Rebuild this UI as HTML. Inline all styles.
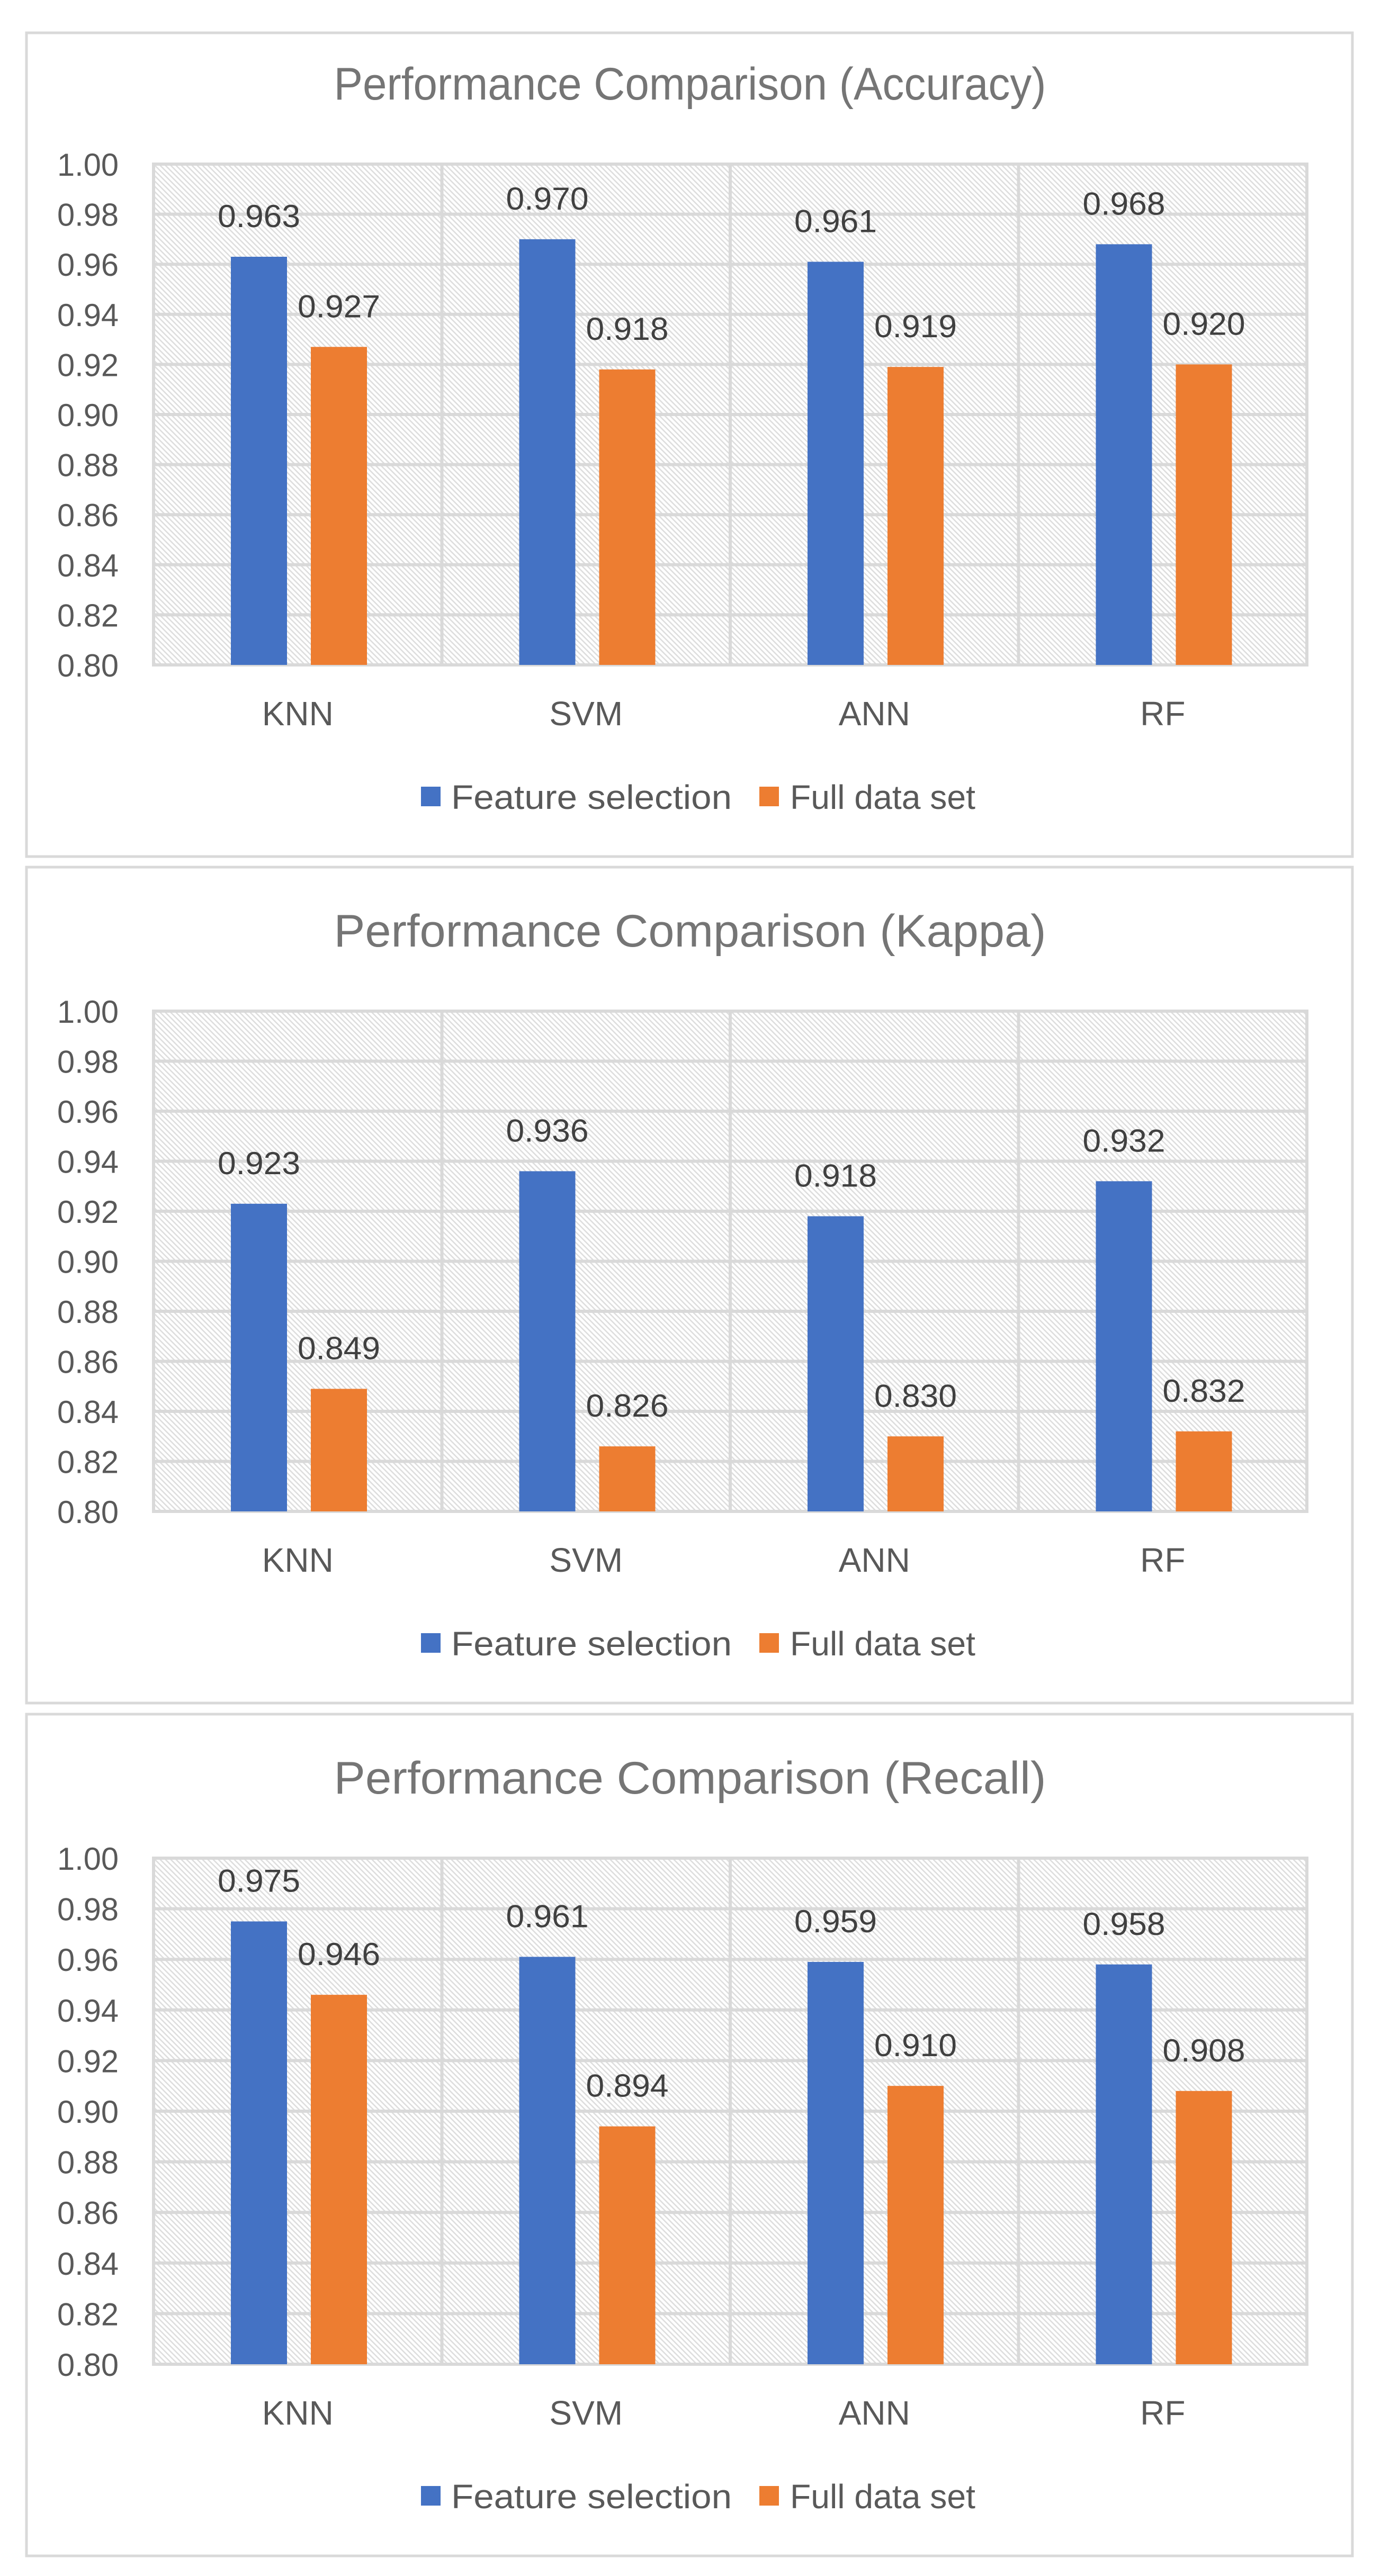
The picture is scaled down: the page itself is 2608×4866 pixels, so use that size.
<!DOCTYPE html>
<html><head><meta charset="utf-8"><style>
html,body{margin:0;padding:0;background:#fff}
svg{display:block}
text{font-family:"Liberation Sans",sans-serif}
</style></head>
<body>
<svg id="root" width="2608" height="4866" viewBox="0 0 2608 4866" xmlns="http://www.w3.org/2000/svg">
<defs>
<pattern id="hatch" patternUnits="userSpaceOnUse" width="10" height="10">
<rect width="10" height="10" fill="#fff"/>
<path d="M-2,-2 L12,12 M-2,8 L2,12 M8,-2 L12,2" stroke="#dedede" stroke-width="2.6"/>
</pattern>
</defs>
</svg>
<script>
const categories = ["KNN","SVM","ANN","RF"];
const seriesNames = ["Feature selection","Full data set"];
const titles = ["Performance Comparison (Accuracy)","Performance Comparison (Kappa)","Performance Comparison (Recall)"];
const accuracyFeature = [0.963,0.970,0.961,0.968];
const accuracyFull = [0.927,0.918,0.919,0.920];
const kappaFeature = [0.923,0.936,0.918,0.932];
const kappaFull = [0.849,0.826,0.830,0.832];
const recallFeature = [0.975,0.961,0.959,0.958];
const recallFull = [0.946,0.894,0.910,0.908];
const yTicks = [0.80,0.82,0.84,0.86,0.88,0.90,0.92,0.94,0.96,0.98,1.00];
const yMin = 0.80, yMax = 1.00;

const NS = "http://www.w3.org/2000/svg";
const root = document.getElementById("root");
const colors = ["#4472c4","#ed7d31"];
function mk(tag, attrs, parent){
  const e = document.createElementNS(NS, tag);
  for (const k in attrs) e.setAttribute(k, attrs[k]);
  (parent||root).appendChild(e);
  return e;
}
const panels = [
  {top:62, bottom:1618, plotTop:310, plotBottom:1256, feat:accuracyFeature, full:accuracyFull, key:"accuracy"},
  {top:1638, bottom:3217, plotTop:1910, plotBottom:2855, feat:kappaFeature, full:kappaFull, key:"kappa"},
  {top:3238, bottom:4828, plotTop:3510, plotBottom:4466, feat:recallFeature, full:recallFull, key:"recall"}
];
const plotLeft = 290, plotRight = 2468;

panels.forEach((p, pi) => {
  const g = mk("g", {});
  
  
  const frame = mk("rect", {x:50, y:p.top, width:2504, height:p.bottom-p.top, fill:"#fff", stroke:"#d9d9d9", "stroke-width":5}, g);
  
  
  const yScale = v => p.plotBottom - (v - yMin) / (yMax - yMin) * (p.plotBottom - p.plotTop);
  const catW = (plotRight - plotLeft) / categories.length;
  const xCat = i => plotLeft + i * catW;

  const title = mk("text", {x:1303, y:p.plotTop-122, "text-anchor":"middle", "font-size":86, fill:"#757575", textLength:1345, lengthAdjust:"spacingAndGlyphs"}, g);
  title.textContent = titles[pi];
  
  

  const bg = mk("rect", {x:plotLeft, y:p.plotTop, width:plotRight-plotLeft, height:p.plotBottom-p.plotTop, fill:"url(#hatch)", stroke:"#d9d9d9", "stroke-width":6}, g);
  
  

  yTicks.forEach(t => {
    const y = yScale(t);
    const gl = mk("line", {x1:plotLeft, x2:plotRight, y1:y, y2:y, stroke:"#d9d9d9", "stroke-width":6}, g);
    
    
    const tl = mk("text", {x:224, y:y+22, "text-anchor":"end", "font-size":60, fill:"#595959", textLength:116, lengthAdjust:"spacingAndGlyphs"}, g);
    tl.textContent = t.toFixed(2);
    
    
  });
  for (let i = 1; i < categories.length; i++) {
    const vl = mk("line", {x1:xCat(i), x2:xCat(i), y1:p.plotTop, y2:p.plotBottom, stroke:"#d9d9d9", "stroke-width":6}, g);
    
    
  }
  const series = [p.feat, p.full];
  categories.forEach((c, i) => {
    series.forEach((vals, si) => {
      const bx = xCat(i) + 146 + si * 151;
      const by = yScale(vals[i]);
      const bar = mk("rect", {x:bx, y:by, width:106, height:p.plotBottom - by, fill:colors[si]}, g);
      
      
      const lbl = mk("text", {x:bx+53, y:by-56, "text-anchor":"middle", "font-size":60, fill:"#404040", textLength:156, lengthAdjust:"spacingAndGlyphs"}, g);
      lbl.textContent = vals[i].toFixed(3);
      
      
    });
    const cl = mk("text", {x:xCat(i)+catW/2, y:p.plotBottom+114, "text-anchor":"middle", "font-size":64, fill:"#595959"}, g);
    cl.textContent = c;
    
    
  });
  const ly = p.plotBottom + 249;
  const legendX = [[795,852,530],[1434,1492,350]];
  seriesNames.forEach((n, si) => {
    const sw = mk("rect", {x:legendX[si][0], y:ly-19, width:37, height:37, fill:colors[si]}, g);
    
    
    const lt = mk("text", {x:legendX[si][1], y:ly+23, "font-size":64, fill:"#595959", textLength:legendX[si][2], lengthAdjust:"spacingAndGlyphs"}, g);
    lt.textContent = n;
    
    
  });
});
</script>
</body></html>
